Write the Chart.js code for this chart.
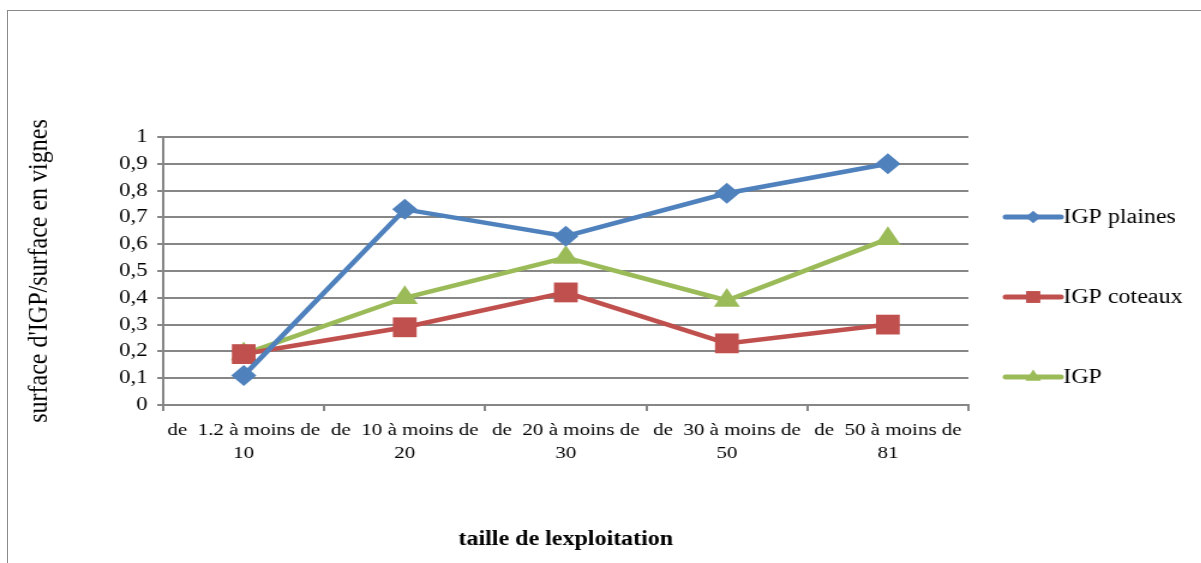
<!DOCTYPE html>
<html>
<head>
<meta charset="utf-8">
<script src="https://cdn.jsdelivr.net/npm/chart.js@4/dist/chart.umd.min.js"></script>
<style>
  html, body { margin: 0; padding: 0; background: #fff; overflow: hidden; }
  #frame { position: absolute; left: 7px; top: 10px; width: 1200px; height: 560px; border: 1px solid #8a8a8a; }
  /* the original picture is stretched sideways by about 1.2 */
  #wrap { position: absolute; left: 0; top: 0; width: 1001px; height: 563px; transform: scaleX(1.2); transform-origin: 0 0; }
</style>
</head>
<body>
<div id="frame"></div>
<div id="wrap"><canvas id="chart" width="1001" height="563"></canvas></div>
<script>
const categories = [
    ['de  1.2 à moins de', '10'],
    ['de  10 à moins de', '20'],
    ['de  20 à moins de', '30'],
    ['de  30 à moins de', '50'],
    ['de  50 à moins de', '81'],
];
const plaines = [0.11, 0.73, 0.63, 0.79, 0.90];
const coteaux = [0.19, 0.29, 0.42, 0.23, 0.30];
const igp = [0.19, 0.40, 0.55, 0.39, 0.62];
const yTicks = [0, 0.1, 0.2, 0.3, 0.4, 0.5, 0.6, 0.7, 0.8, 0.9, 1];

const serif = '"Liberation Serif", "Times New Roman", serif';
const gridGray = '#868686';

// legend drawn by hand: line sample with marker, spaced like the original
const sideLegend = {
    id: 'sideLegend',
    afterDraw(chart) {
        const ctx = chart.ctx;
        const area = chart.chartArea;
        chart.data.datasets.forEach((ds, i) => {
            const x0 = area.right + 31;
            const y = area.top + 80 + i * 80;
            ctx.save();
            ctx.strokeStyle = ds.borderColor;
            ctx.lineWidth = 5;
            ctx.lineCap = 'round';
            ctx.beginPath();
            ctx.moveTo(x0, y);
            ctx.lineTo(x0 + 46, y);
            ctx.stroke();
            ctx.fillStyle = ds.pointBackgroundColor;
            ctx.strokeStyle = ds.pointBackgroundColor;
            Chart.helpers.drawPoint(ctx, {
                pointStyle: ds.pointStyle,
                radius: ds.pointRadius * 0.6,
                borderWidth: 0
            }, x0 + 23, y);
            ctx.fillStyle = '#000';
            ctx.font = '20px ' + serif;
            ctx.textBaseline = 'middle';
            ctx.fillText(ds.label, x0 + 48, y + 1);
            ctx.restore();
        });
    }
};

function series(label, data, color, style, radius) {
    return {
        label: label,
        data: data,
        borderColor: color,
        backgroundColor: color,
        pointBackgroundColor: color,
        pointBorderColor: color,
        pointStyle: style,
        pointRadius: radius,
        pointBorderWidth: 0,
        borderWidth: 4.5,
        tension: 0,
        fill: false,
    };
}

new Chart(document.getElementById('chart').getContext('2d'), {
    type: 'line',
    data: {
        labels: categories,
        datasets: [
            series('IGP plaines', plaines, '#4F81BD', 'rectRot', 10.5),
            series('IGP coteaux', coteaux, '#C0504D', 'rect', 14),
            series('IGP', igp, '#9BBB59', 'triangle', 12.5),
        ]
    },
    options: {
        responsive: false,
        animation: false,
        layout: { padding: { left: 0, right: 194, top: 137, bottom: 0 } },
        plugins: {
            legend: { display: false },
            tooltip: { enabled: false },
        },
        scales: {
            x: {
                offset: true,
                afterFit(scale) { scale.height = 158; },
                grid: {
                    offset: true,
                    drawOnChartArea: false,
                    color: gridGray,
                    lineWidth: 2,
                    tickLength: 6,
                },
                border: { color: gridGray, width: 2 },
                ticks: {
                    autoSkip: false,
                    maxRotation: 0,
                    minRotation: 0,
                    padding: 8,
                    color: '#000',
                    font: { family: serif, size: 17.5, lineHeight: 1.3 },
                },
                title: {
                    display: true,
                    text: 'taille de lexploitation',
                    color: '#000',
                    font: { family: serif, size: 20, weight: 'bold' },
                    padding: { top: 0, bottom: 11 },
                },
            },
            y: {
                min: 0,
                max: 1,
                afterFit(scale) { scale.width = 136; },
                afterBuildTicks(scale) { scale.ticks = yTicks.map(v => ({ value: v })); },
                grid: {
                    color: gridGray,
                    lineWidth: 2,
                    tickLength: 5,
                },
                border: { color: gridGray, width: 2 },
                ticks: {
                    padding: 8,
                    color: '#000',
                    font: { family: serif, size: 19 },
                    callback: v => String(Math.round(v * 10) / 10).replace('.', ','),
                },
                title: {
                    display: true,
                    text: "surface d'IGP/surface en vignes",
                    color: '#000',
                    font: { family: serif, size: 24 },
                    padding: { top: 18, bottom: 0 },
                },
            },
        },
    },
    plugins: [sideLegend],
});
</script>
</body>
</html>
